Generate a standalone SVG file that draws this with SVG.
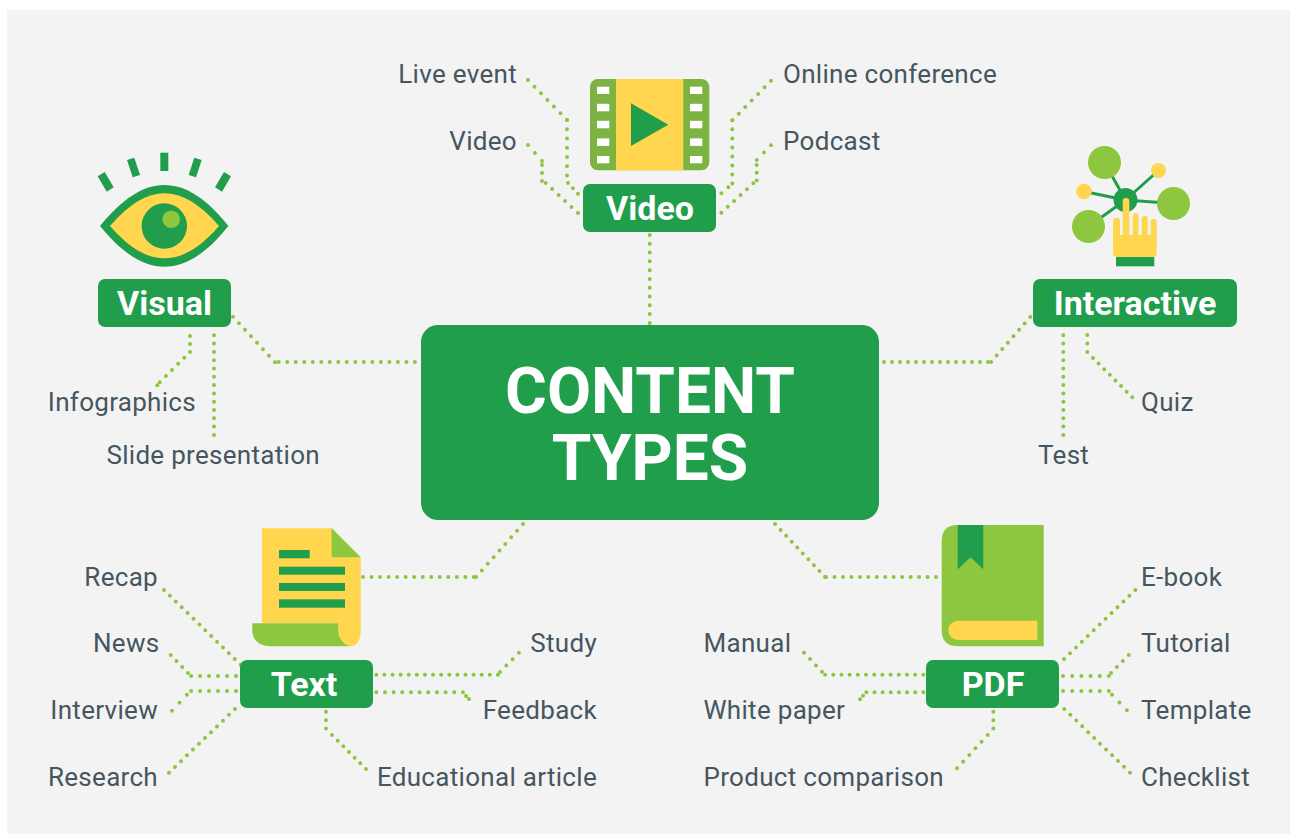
<svg xmlns="http://www.w3.org/2000/svg" width="1290" height="834" viewBox="0 0 1290 834">
<style>
.l{font-family:Roboto,"Liberation Sans",sans-serif;font-size:26px;fill:#455660;letter-spacing:.3px}
.e{text-anchor:end}
.b{font-family:Roboto,"Liberation Sans",sans-serif;font-weight:700;font-size:34px;fill:#fff;text-anchor:middle}
.t{font-family:Roboto,"Liberation Sans",sans-serif;font-weight:700;font-size:64px;fill:#fff;text-anchor:middle}
.g{fill:#209e4b}.lg{fill:#8dc63f}.y{fill:#ffd64d}
.c path{fill:none;stroke:#8cc63f;stroke-width:4;stroke-linecap:round;stroke-dasharray:0 1}
</style>
<rect width="1290" height="834" fill="#fff"/>
<rect x="7" y="10" width="1283" height="824" fill="#f3f3f3"/>
<g class="c" id="connectors">
<path d="M649.700 235V323" pathLength="10.010"/>
<path d="M528 80L567 120" pathLength="6.010"/><path d="M567 120V175.700" pathLength="6.010"/><path d="M568 183L578 193.700" pathLength="2.010"/>
<path d="M528 145L542 161" pathLength="2.010"/><path d="M542 165V181" pathLength="2.010"/><path d="M545.700 183L578 213" pathLength="5.010"/>
<path d="M771 80.700L732.300 120.300" pathLength="6.010"/><path d="M732.300 120.300V183.700" pathLength="7.010"/><path d="M728.300 187.300L721.300 193.300" pathLength="1.010"/>
<path d="M771 145.300L756.700 160" pathLength="2.010"/><path d="M756.700 165V180.700" pathLength="2.010"/><path d="M753.300 183.300L721.300 212.700" pathLength="5.010"/>
<path d="M233 316.700L275 362.300" pathLength="7.010"/><path d="M278.700 362H415" pathLength="16.010"/>
<path d="M190 336V352" pathLength="2.010"/><path d="M184.300 357.700L159.700 382.300" pathLength="4.010"/><path d="M157.300 385.300V385.310"/>
<path d="M214 335.300V435" pathLength="12.010"/>
<path d="M1030.300 317L991 362" pathLength="7.010"/><path d="M884 362H988" pathLength="13.010"/>
<path d="M1063.300 335.300V435" pathLength="12.010"/>
<path d="M1087.300 335V352" pathLength="2.010"/><path d="M1093 358L1132.300 397.300" pathLength="7.010"/>
<path d="M363 577H474" pathLength="13.010"/><path d="M476 577L523 524" pathLength="8.010"/>
<path d="M936 577H826" pathLength="13.010"/><path d="M825 577L775 524" pathLength="9.010"/>
<path d="M164 590L240.700 664.700" pathLength="13.010"/>
<path d="M170.700 655L188 673" pathLength="3.010"/><path d="M236 676H191" pathLength="5.010"/>
<path d="M172 710.700L187 694.700" pathLength="2.010"/><path d="M236 691H191" pathLength="5.010"/>
<path d="M169 772.700L235 709" pathLength="11.010"/>
<path d="M376.300 674.700H498" pathLength="15.010"/><path d="M500 672L519 652.700" pathLength="3.010"/>
<path d="M376.300 692.300H463" pathLength="10.010"/><path d="M466 696L469 699" pathLength="1.010"/>
<path d="M326 711.700V728.700" pathLength="2.010"/><path d="M332 735L366 769" pathLength="6.010"/>
<path d="M923.300 674.700H825" pathLength="12.010"/><path d="M822 671.700L804 652.700" pathLength="3.010"/>
<path d="M923.300 692.300H866.300" pathLength="7.010"/><path d="M863 695.700L860 699.300" pathLength="1.010"/>
<path d="M993.300 711.700V728.700" pathLength="2.010"/><path d="M987.700 735L957 768.300" pathLength="5.010"/>
<path d="M1135.300 590L1064 659" pathLength="12.010"/>
<path d="M1128.700 655L1111 673" pathLength="3.010"/><path d="M1063 676H1109" pathLength="5.010"/>
<path d="M1063 691H1109" pathLength="5.010"/><path d="M1112 694.700L1127 710.300" pathLength="2.010"/>
<path d="M1064.300 709L1130 772.700" pathLength="11.010"/>
</g>
<g id="center"><rect x="421" y="325" width="458" height="195" rx="17" class="g"/>
<text x="650" y="413" class="t">CONTENT</text>
<text x="650" y="480" class="t">TYPES</text></g>
<g id="video"><rect x="583" y="184" width="133" height="48" rx="7" class="g"/><text x="650" y="220" class="b">Video</text>
<rect x="590" y="79" width="119.300" height="91.300" rx="8" fill="#7cb342"/><rect x="616" y="79" width="67.300" height="91.300" class="y"/>
<path d="M631 103.300L668.300 124.700L631 146Z" class="g"/>
<g fill="#fff"><rect x="597" y="86.700" width="12.300" height="7.300"/><rect x="597" y="103.800" width="12.300" height="7.500"/><rect x="597" y="120.800" width="12.300" height="7.500"/><rect x="597" y="138.400" width="12.300" height="7.500"/><rect x="597" y="156" width="12.300" height="7.300"/><rect x="690" y="86.700" width="12.300" height="7.300"/><rect x="690" y="103.800" width="12.300" height="7.500"/><rect x="690" y="120.800" width="12.300" height="7.500"/><rect x="690" y="138.400" width="12.300" height="7.500"/><rect x="690" y="156" width="12.300" height="7.300"/></g></g>
<g id="visual"><rect x="98" y="279" width="133" height="48" rx="7" class="g"/><text x="164.500" y="315" class="b">Visual</text>
<path d="M100 226C122 199 143 185 164.300 185C186 185 207 199 228.300 226C207 253 186 266.700 164.300 266.700C143 266.700 122 253 100 226Z" class="g"/>
<path d="M110 226C129 204 147 193.300 164.300 193.300C182 193.300 200 204 219 226C200 248 182 258.300 164.300 258.300C147 258.300 129 248 110 226Z" class="y"/>
<circle cx="164.300" cy="226" r="22.700" class="g"/><circle cx="171.200" cy="219.300" r="8.800" class="lg"/>
<g class="g"><rect x="160.300" y="152.700" width="8" height="18.300"/><path d="M127 160L134.300 157.700L140 175L132.700 177.300Z"/><path d="M97.700 176.300L104.700 172L113.700 187.300L106.700 191.700Z"/><path d="M194.300 157.700L201.700 160L196 177.300L188.700 175Z"/><path d="M224 172L231 176.300L222 191.700L215 187.300Z"/></g></g>
<g id="interactive"><rect x="1033" y="279" width="204" height="48" rx="7" class="g"/><text x="1135" y="315" class="b">Interactive</text>
<path d="M1104.500 162.500L1125.500 200M1158.500 170.500L1125.500 200M1084 191.500L1125.500 200M1088.500 226.500L1125.500 200M1173.500 203.500L1125.500 200" stroke="#209e4b" stroke-width="3"/>
<circle cx="1104.500" cy="162.500" r="16.500" class="lg"/><circle cx="1158.500" cy="170.500" r="7.500" class="y"/><circle cx="1084" cy="191.500" r="7.800" class="y"/><circle cx="1088.500" cy="226.500" r="16.500" class="lg"/><circle cx="1173.500" cy="203.500" r="16.500" class="lg"/><circle cx="1125.500" cy="200" r="12" class="g"/>
<g class="y"><rect x="1113" y="218" width="7" height="24" rx="3.200"/><rect x="1122.700" y="198" width="6.600" height="44" rx="3.200"/><rect x="1132.700" y="213" width="5.800" height="29" rx="2.900"/><rect x="1141.700" y="216" width="6" height="26" rx="3"/><rect x="1150.700" y="219" width="6" height="23" rx="3"/><rect x="1113" y="235" width="43.700" height="22" rx="4"/></g>
<rect x="1116" y="257" width="38.300" height="9.300" class="g"/></g>
<g id="text"><rect x="240" y="660" width="133" height="48" rx="7" class="g"/><text x="304" y="696" class="b">Text</text>
<path d="M262 528.300H331.700L360.700 557.300V630Q360.700 646.300 349.500 646.300Q338.300 646.300 338.300 630V623.300H262Z" class="y"/>
<path d="M331.700 528.300L360.700 557.300H331.700Z" class="lg"/>
<path d="M252.300 623.300H338.300V631Q338.300 642 349.500 646.300H270Q252.300 645 252.300 630Z" class="lg"/>
<g class="g"><rect x="279" y="550" width="30.700" height="8.300"/><rect x="279" y="566.700" width="66" height="8"/><rect x="279" y="583" width="66" height="8"/><rect x="279" y="599.300" width="66" height="8.400"/></g></g>
<g id="pdf"><rect x="926" y="660" width="133" height="48" rx="7" class="g"/><text x="993" y="696" class="b">PDF</text>
<path d="M957.700 525H1043.700V646.300H957.700Q941.700 646.300 941.700 630.300V541Q941.700 525 957.700 525Z" class="lg"/>
<path d="M957.700 525H983.300V569.300L970.500 557.300L957.700 569.300Z" class="g"/>
<path d="M958 620.700H1037.300V640H958a9.650 9.650 0 0 1 0-19.300Z" class="y"/></g>
<g id="labels">
<text x="517" y="83" class="l e">Live event</text><text x="517" y="150" class="l e">Video</text>
<text x="783" y="83" class="l">Online conference</text><text x="783" y="150" class="l">Podcast</text>
<text x="196" y="411" class="l e">Infographics</text><text x="320" y="464" class="l e">Slide presentation</text>
<text x="1141" y="411" class="l">Quiz</text><text x="1038" y="464" class="l">Test</text>
<text x="158" y="585.500" class="l e">Recap</text><text x="159.500" y="651.500" class="l e">News</text><text x="158" y="718.500" class="l e">Interview</text><text x="158" y="785.500" class="l e">Research</text>
<text x="597" y="651.500" class="l e">Study</text><text x="597" y="718.500" class="l e">Feedback</text><text x="597" y="785.500" class="l e">Educational article</text>
<text x="703.500" y="651.500" class="l">Manual</text><text x="703.500" y="718.500" class="l">White paper</text><text x="703.500" y="785.500" class="l">Product comparison</text>
<text x="1141" y="585.500" class="l">E-book</text><text x="1141" y="651.500" class="l">Tutorial</text><text x="1141" y="718.500" class="l">Template</text><text x="1141" y="785.500" class="l">Checklist</text>
</g>
</svg>
